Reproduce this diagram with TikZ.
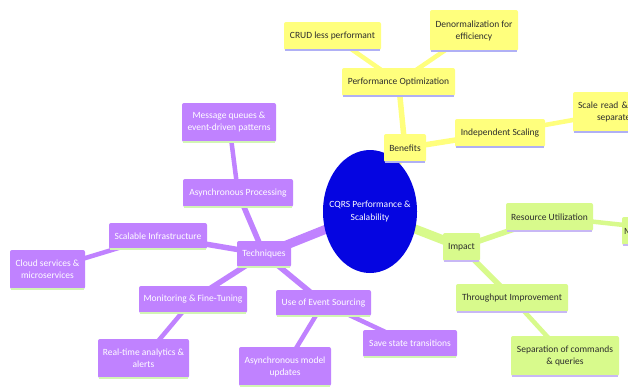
\documentclass[tikz,border=0pt]{standalone}
\usepackage{fontspec}
\setmainfont{Carlito}
\usetikzlibrary{backgrounds,shapes.geometric}
\definecolor{yfill}{RGB}{255,255,125}
\definecolor{gfill}{RGB}{216,250,140}
\definecolor{pfill}{RGB}{192,130,255}
\definecolor{yline}{RGB}{176,176,245}
\definecolor{gline}{RGB}{200,184,245}
\definecolor{pline}{RGB}{210,245,180}
\definecolor{cblue}{RGB}{5,5,225}
\definecolor{dtext}{RGB}{45,45,45}
\begin{document}
\begin{tikzpicture}[x=1pt,y=-1pt,
  box/.style={rectangle, rounded corners=2pt, inner sep=0pt, align=center,
    font=\fontsize{9.5}{12}\selectfont},
  ybox/.style={box, fill=yfill, text=dtext},
  gbox/.style={box, fill=gfill, text=dtext},
  pbox/.style={box, fill=pfill, text=white},
  sz/.style 2 args={minimum width=#1pt, minimum height=#2pt},
  ye/.style={draw=yfill, line width=#1pt},
  ge/.style={draw=gfill, line width=#1pt},
  pe/.style={draw=pfill, line width=#1pt},
]
\useasboundingbox (0,0) rectangle (628,389);

% centre
\node[ellipse, fill=cblue, inner sep=0pt, minimum width=94pt, minimum height=123pt] (c) at (370,211.5) {};
\node[text=white, inner sep=0pt, align=center, font=\fontsize{9.5}{13}\selectfont] (ctext) at (c.center) {CQRS Performance \&\\Scalability};

% yellow branch
\node[ybox, sz={97}{28}] (crud) at (332.5,36) {CRUD less performant};
\node[ybox, sz={88}{41}] (denorm) at (474,30.5) {Denormalization for\\efficiency};
\node[ybox, sz={113}{28}] (perf) at (398.5,82) {Performance Optimization};
\node[ybox, sz={42}{28}] (benefits) at (405,148) {Benefits};
\node[ybox, sz={90}{28}] (indep) at (500,133) {Independent Scaling};
\node[ybox, sz={90}{40}, text width=80pt, align=left] (scale) at (618,112) {Scale read \&\\\hspace*{19pt}separate};

% green branch
\node[gbox, sz={37}{28}] (impact) at (461.5,247) {Impact};
\node[gbox, sz={87}{28}] (resource) at (549.5,217) {Resource Utilization};
\node[gbox, sz={116}{28}, text width=112pt, align=left] (minim) at (680,231) {M};
\node[gbox, sz={112}{28}] (through) at (512,298) {Throughput Improvement};
\node[gbox, sz={108}{40}] (sep) at (565,356) {Separation of commands\\\& queries};

% purple branch
\node[pbox, sz={94}{39}] (msg) at (229,122.5) {Message queues \&\\event-driven patterns};
\node[pbox, sz={110}{28}] (async) at (238,193) {Asynchronous Processing};
\node[pbox, sz={98}{26}] (scalable) at (158,236) {Scalable Infrastructure};
\node[pbox, sz={54}{26}] (tech) at (264,254) {Techniques};
\node[pbox, sz={75}{39}] (cloud) at (47.5,269.5) {Cloud services \&\\microservices};
\node[pbox, sz={108}{27}] (mon) at (193,299.5) {Monitoring \& Fine-Tuning};
\node[pbox, sz={95}{26}] (ues) at (323.5,303) {Use of Event Sourcing};
\node[pbox, sz={91}{39}] (rt) at (143.5,358.5) {Real-time analytics \&\\alerts};
\node[pbox, sz={92}{39}] (am) at (285,366.5) {Asynchronous model\\updates};
\node[pbox, sz={94}{27}] (save) at (410,343.5) {Save state transitions};

% bottom accents
\foreach \n in {crud,denorm,perf,benefits,indep,scale}
  \draw[yline, line width=1.5pt] ([xshift=1pt]\n.south west) -- ([xshift=-1pt]\n.south east);
\foreach \n in {impact,resource,minim,through,sep}
  \draw[gline, line width=1.5pt] ([xshift=1pt]\n.south west) -- ([xshift=-1pt]\n.south east);
\foreach \n in {msg,async,scalable,tech,cloud,mon,ues,rt,am,save}
  \draw[pline, line width=1.5pt] ([xshift=1pt]\n.south west) -- ([xshift=-1pt]\n.south east);

\begin{scope}[on background layer]
  \fill[white] (0,0) rectangle (628,389);
  % yellow
  \draw[ye=9] (c.center) -- (benefits.center);
  \draw[ye=5.5] (benefits.center) -- (perf.center);
  \draw[ye=4.5] (perf.center) -- (crud.center);
  \draw[ye=4.5] (perf.center) -- (denorm.center);
  \draw[ye=5.5] (benefits.center) -- (indep.center);
  \draw[ye=4.5] (indep.center) -- (scale.center);
  % green
  \draw[ge=9] (c.center) -- (impact.center);
  \draw[ge=5.5] (impact.center) -- (resource.center);
  \draw[ge=4.5] (resource.center) -- (minim.center);
  \draw[ge=5.5] (impact.center) -- (through.center);
  \draw[ge=4.5] (through.center) -- (sep.center);
  % purple
  \draw[pe=9] (c.center) -- (tech.center);
  \draw[pe=5.5] (tech.center) -- (async.center);
  \draw[pe=4.5] (async.center) -- (msg.center);
  \draw[pe=5.5] (tech.center) -- (scalable.center);
  \draw[pe=4.5] (scalable.center) -- (cloud.center);
  \draw[pe=5.5] (tech.center) -- (mon.center);
  \draw[pe=4.5] (mon.center) -- (rt.center);
  \draw[pe=5.5] (tech.center) -- (ues.center);
  \draw[pe=4.5] (ues.center) -- (am.center);
  \draw[pe=4.5] (ues.center) -- (save.center);
\end{scope}
\end{tikzpicture}
\end{document}
